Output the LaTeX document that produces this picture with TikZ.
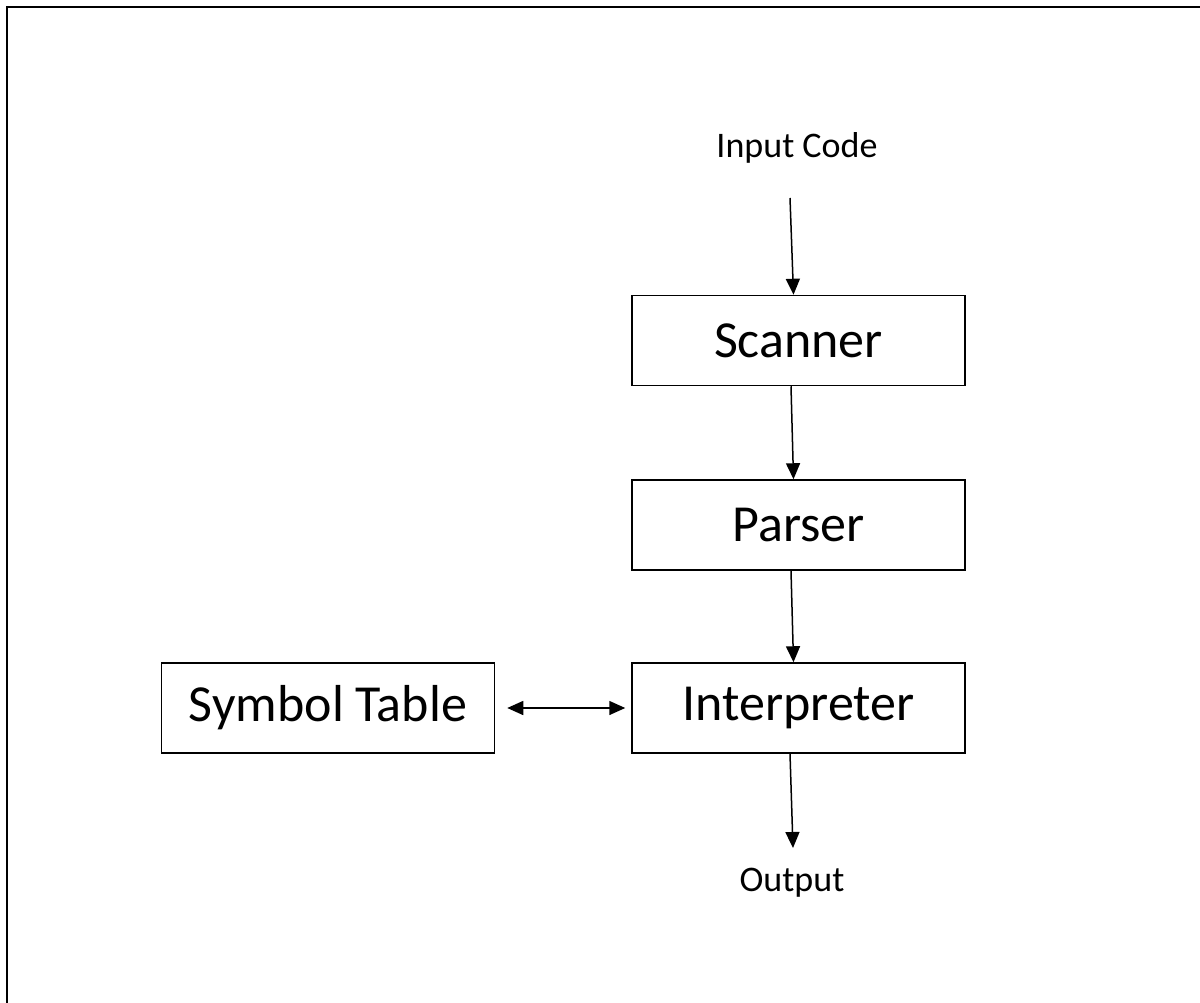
\documentclass[tikz,border=0pt]{standalone}
\usepackage{fontspec}
\setmainfont{Carlito}
\usetikzlibrary{arrows.meta}
\begin{document}
\begin{tikzpicture}[x=1pt,y=-1pt,
  box/.style={draw,line width=1.5pt,minimum width=333pt,minimum height=90pt,inner sep=0pt,font=\fontsize{52}{60}\selectfont},
  lbl/.style={inner sep=0pt,font=\fontsize{36}{42}\selectfont},
  arr/.style={line width=1.5pt,-{Triangle[length=16pt,width=14pt]}},
  darr/.style={line width=1.5pt,{Triangle[length=16pt,width=14pt]}-{Triangle[length=16pt,width=14pt]}}]
\useasboundingbox (0,0) rectangle (1200,1003);
\draw[line width=2.5pt] (7,1003) -- (7,7) -- (1200,7);
\node[lbl] (in) at (797,148) {Input Code};
\node[box] (scan) at (798.5,340.5) {Scanner};
\node[box] (parse) at (798.5,525) {Parser};
\node[box] (interp) at (798.5,708) {Interpreter};
\node[box] (sym) at (328,708) {Symbol Table};
\node[lbl] (out) at (792,883) {Output};
\coordinate (inend) at (790,198);
\coordinate (outend) at (793,848);
\draw[arr] (inend) -- ([xshift=-5pt]scan.north);
\draw[arr] ([xshift=-7.5pt]scan.south) -- ([xshift=-5pt]parse.north);
\draw[arr] ([xshift=-7.5pt]parse.south) -- ([xshift=-5pt]interp.north);
\draw[arr] ([xshift=-8.5pt]interp.south) -- (outend);
\draw[darr] ([xshift=12pt]sym.east) -- ([xshift=-6pt]interp.west);
\end{tikzpicture}
\end{document}
